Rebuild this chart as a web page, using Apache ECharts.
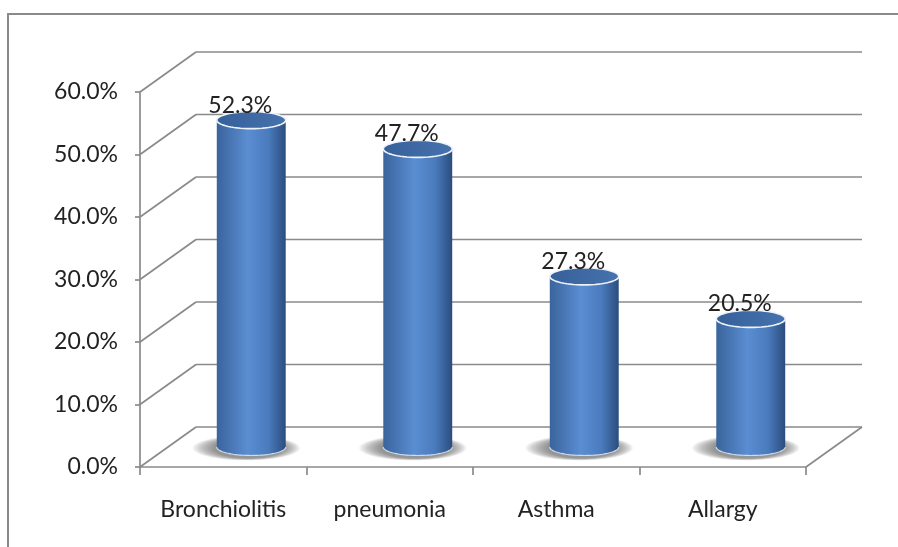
<!DOCTYPE html>
<html><head><meta charset="utf-8">
<script src="https://cdn.jsdelivr.net/npm/echarts@6/dist/echarts.min.js"></script>
<style>html,body{margin:0;padding:0;background:#fff}#c{width:898px;height:547px}</style>
</head><body><div id="c"></div>
<script>
const categories = ['Bronchiolitis', 'pneumonia', 'Asthma', 'Allargy'];
const values = [52.3, 47.7, 27.3, 20.5];
const yTicks = [0, 10, 20, 30, 40, 50, 60];

const DX = 56, DY = -40;
const FONT = 'Lato';
const FS = 23;
const LINE = '#8a8a8a';
const chart = echarts.init(document.getElementById('c'), null, {renderer: 'canvas'});

function ellPts(cx, cy, rx, ry, a0, a1, n) {
  const pts = [];
  for (let k = 0; k <= n; k++) {
    const t = a0 + (a1 - a0) * k / n;
    pts.push([cx + rx * Math.cos(t), cy + ry * Math.sin(t)]);
  }
  return pts;
}

function renderFrame(params, api) {
  const band = api.size([1, 0])[0];
  const xl = api.coord([0, 0])[0] - band / 2;
  const xr = api.coord([categories.length - 1, 0])[0] + band / 2;
  const y0 = api.coord([0, 0])[1];
  const children = [];
  const ls = {stroke: LINE, lineWidth: 1.7};
  yTicks.forEach(v => {
    const y = api.coord([0, v])[1];
    children.push({type: 'line', shape: {x1: xl + DX, y1: y + DY, x2: xr + DX, y2: y + DY}, style: ls});
    children.push({type: 'line', shape: {x1: xl, y1: y, x2: xl + DX, y2: y + DY}, style: ls});
  });
  children.push({type: 'line', shape: {x1: xr, y1: y0, x2: xr + DX, y2: y0 + DY}, style: ls});
  return {type: 'group', children: children, silent: true};
}

function renderCyl(params, api) {
  const i = api.value(0), v = api.value(1);
  const band = api.size([1, 0])[0];
  const top = api.coord([i, v]);
  const base = api.coord([i, 0]);
  const rx = band * 0.207, ry = 8.5;
  const cx = top[0] + DX / 2;
  const topY = top[1] + DY / 2;
  const baseY = base[1] + DY / 2;
  const body = [[cx - rx, topY]].concat(ellPts(cx, baseY, rx, ry, Math.PI, 0, 40)).concat([[cx + rx, topY]]);
  const children = [];
  for (let k = 0; k < 9; k++) {
    const s = 1.55 - k * 0.065;
    children.push({
      type: 'polygon',
      shape: {points: ellPts(cx - 5 + k * 0.3, baseY + 1, rx * s, ry * (0.75 + s * 0.45), 0, Math.PI * 2, 60)},
      style: {fill: 'rgba(70,70,70,0.085)'}
    });
  }
  children.push({
    type: 'polygon',
    shape: {points: body},
    style: {fill: new echarts.graphic.LinearGradient(0, 0, 1, 0, [
      {offset: 0, color: '#3a649c'},
      {offset: 0.45, color: '#5a8dd2'},
      {offset: 0.75, color: '#4a7bbd'},
      {offset: 1, color: '#2b4d7e'}
    ])}
  });
  children.push({
    type: 'polyline',
    shape: {points: ellPts(cx, baseY, rx, ry, Math.PI, 0, 40)},
    style: {stroke: 'rgba(225,235,248,0.85)', lineWidth: 1.2, fill: null}
  });
  children.push({
    type: 'polygon',
    shape: {points: ellPts(cx, topY, rx, ry, 0, Math.PI * 2, 60)},
    style: {
      fill: new echarts.graphic.LinearGradient(0, 0, 1, 0, [
        {offset: 0, color: '#36609a'},
        {offset: 1, color: '#4672ad'}
      ]),
      stroke: '#eef3fa', lineWidth: 1.6
    }
  });
  children.push({
    type: 'text',
    style: {
      text: v.toFixed(1) + '%',
      x: cx - 11, y: topY - ry + 5,
      align: 'center', verticalAlign: 'bottom',
      font: FS + 'px ' + FONT, fill: '#222'
    }
  });
  return {type: 'group', children: children};
}

const option = {
  animation: false,
  backgroundColor: '#fff',
  grid: {left: 140, right: 92, top: 92, bottom: 80},
  xAxis: {
    type: 'category', data: categories,
    axisLine: {lineStyle: {color: LINE, width: 1.7}},
    axisTick: {show: true, length: 8, lineStyle: {color: LINE, width: 1.7}},
    axisLabel: {margin: 31, fontSize: FS, fontFamily: FONT, color: '#222'}
  },
  yAxis: {
    type: 'value', min: 0, max: 60, interval: 10,
    axisLine: {show: true, lineStyle: {color: LINE, width: 1.7}},
    axisTick: {show: true, length: 5, lineStyle: {color: LINE, width: 1.7}},
    splitLine: {show: false},
    axisLabel: {margin: 22, fontSize: FS, fontFamily: FONT, color: '#222', padding: [4, 0, 0, 0], formatter: v => v.toFixed(1) + '%'}
  },
  graphic: [{
    type: 'rect', silent: true, z: -10,
    shape: {x: 8, y: 14, width: 960, height: 640},
    style: {fill: null, stroke: '#8a8a8a', lineWidth: 2}
  }],
  series: [
    {type: 'custom', coordinateSystem: 'cartesian2d', renderItem: renderFrame, data: [[0, 0]], encode: {x: 0, y: 1}, z: 1, silent: true},
    {type: 'custom', coordinateSystem: 'cartesian2d', renderItem: renderCyl, data: values.map((v, i) => [i, v]), encode: {x: 0, y: 1}, z: 3}
  ]
};
chart.setOption(option);
</script>
</body></html>
